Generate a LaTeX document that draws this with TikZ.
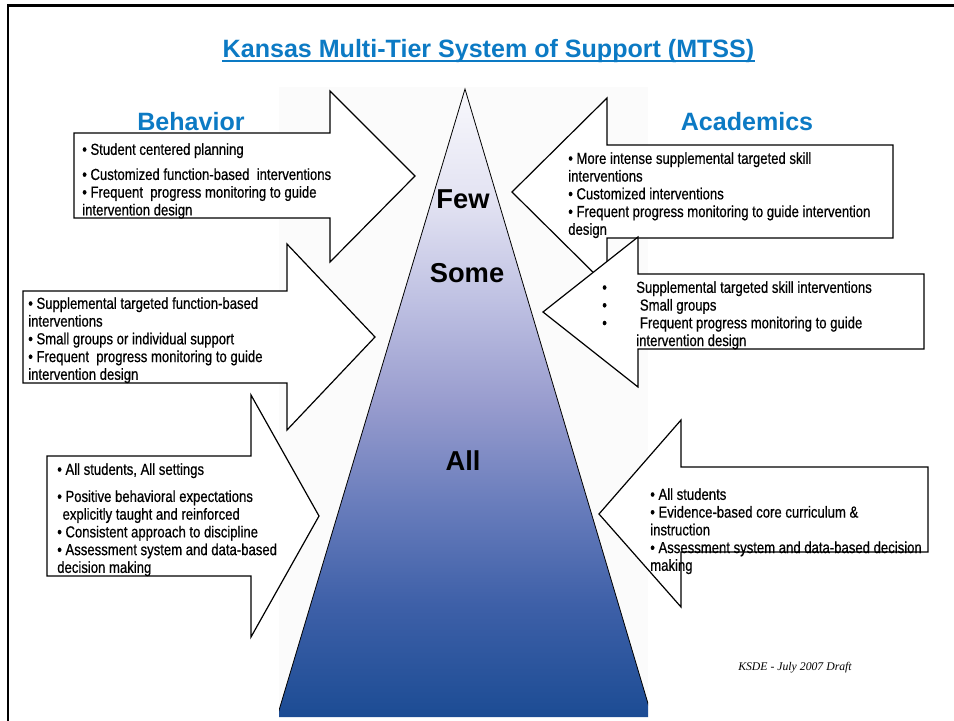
\documentclass[tikz,border=0pt]{standalone}
\usepackage{fontspec}
\setmainfont{Liberation Sans}
\newfontfamily\narrowfont[FakeStretch=0.82, FakeBold=0.6]{Liberation Sans}
\newfontfamily\footfont{Liberation Serif}

\definecolor{mtssblue}{RGB}{12,122,196}
\definecolor{pyrbot}{RGB}{28,76,148}
\definecolor{pyrlow}{RGB}{62,96,168}
\definecolor{pyrmidlow}{RGB}{105,125,188}
\definecolor{pyrmid}{RGB}{152,156,206}
\definecolor{pyrmidhigh}{RGB}{190,192,226}
\definecolor{pyrhigh}{RGB}{226,226,242}
\definecolor{pyrtop}{RGB}{248,248,252}

\pgfdeclareverticalshading{pyramidfade}{100bp}{color(0bp)=(pyrbot); color(25bp)=(pyrbot);
  color(34bp)=(pyrlow); color(42bp)=(pyrmidlow); color(50bp)=(pyrmid);
  color(58bp)=(pyrmidhigh); color(66bp)=(pyrhigh); color(75bp)=(pyrtop); color(100bp)=(pyrtop)}

\begin{document}
\begin{tikzpicture}[x=0.75pt, y=-0.75pt,
  bigarrow/.style={draw=black, fill=white, line width=0.9pt, line join=miter},
  bullets/.style={anchor=north west, inner sep=0pt, align=left, text=black,
    font=\narrowfont\fontsize{12}{13.3}\selectfont},
  heading/.style={anchor=base, inner sep=0pt, text=mtssblue,
    font=\bfseries\fontsize{18.8}{22}\selectfont},
  tierlabel/.style={anchor=base, inner sep=0pt, font=\bfseries\fontsize{20.5}{24}\selectfont}]
\useasboundingbox (0,0) rectangle (954,721);

% Frame
\draw[line width=1.9pt] (8,721) -- (8,5.5) -- (954,5.5);

% Title
\node[heading] (title) at (488.5,57) {Kansas Multi-Tier System of Support (MTSS)};
\draw[mtssblue, line width=1.1pt] ([yshift=-3pt]title.base west) -- ([yshift=-3pt]title.base east);

% Pyramid
\fill[black!1.5] (279,87) rectangle (648,717);
\begin{scope}
  \clip (279,87) rectangle (648,717);
  \shade[shading=pyramidfade] (465,89) -- (652,717) -- (277,717) -- cycle;
  \draw[line width=0.6pt] (277,717) -- (465,89) -- (652,717);
\end{scope}
\node[tierlabel] (few) at (463,208) {Few};
\node[tierlabel] (some) at (467,282) {Some};
\node[tierlabel] (all) at (463,470) {All};

% Behavior side
\node[heading] (behavior) at (191,130) {Behavior};
\draw[bigarrow] (74,133) -- (330,133) -- (330,91) -- (415,176) -- (330,262) -- (330,218) -- (74,218) -- cycle;
\draw[bigarrow] (23,291) -- (287,291) -- (287,244) -- (375,337) -- (287,430) -- (287,383) -- (23,383) -- cycle;
\draw[bigarrow] (47,456) -- (251,456) -- (251,395) -- (319,516) -- (251,637) -- (251,576) -- (47,576) -- cycle;

\node[bullets] (beh3) at (82,143) {• Student centered planning\\[5.5pt]
  • Customized function-based\ \ interventions\\
  • Frequent\ \ progress monitoring to guide\\
  intervention design};
\node[bullets] (beh2) at (28,297) {• Supplemental targeted function-based\\
  interventions\\
  • Small groups or individual support\\
  • Frequent\ \ progress monitoring to guide\\
  intervention design};
\node[bullets] (beh1) at (57,463) {• All students, All settings\\[7pt]
  • Positive behavioral expectations\\
  \hspace*{4pt}explicitly taught and reinforced\\
  • Consistent approach to discipline\\
  • Assessment system and data-based\\
  decision making};

% Academics side
\node[heading] (academics) at (747,130) {Academics};
\draw[bigarrow] (893,145) -- (607,145) -- (607,98) -- (512,192) -- (607,286) -- (607,238) -- (893,238) -- cycle;
\draw[bigarrow] (924,274) -- (638,274) -- (638,237) -- (543,312) -- (638,387) -- (638,349) -- (924,349) -- cycle;
\draw[bigarrow] (928,467) -- (681,467) -- (681,420) -- (599,514) -- (681,607) -- (681,552) -- (928,552) -- cycle;

\node[bullets] (aca3) at (568,152) {• More intense supplemental targeted skill\\
  interventions\\
  • Customized interventions\\
  • Frequent progress monitoring to guide intervention\\
  design};
\node[bullets] (aca2) at (602,281) {\makebox[25.5pt][l]{•}Supplemental targeted skill interventions\\
  \makebox[25.5pt][l]{•}\ Small groups\\
  \makebox[25.5pt][l]{•}\ Frequent progress monitoring to guide\\
  \hspace*{25.5pt}intervention design};
\node[bullets] (aca1) at (650,488) {• All students\\
  • Evidence-based core curriculum \&\\
  instruction\\
  • Assessment system and data-based decision\\
  making};

% Footer
\node[anchor=base, inner sep=0pt, font=\footfont\itshape\fontsize{8.8}{10}\selectfont] (draft) at (795,670) {KSDE - July 2007 Draft};
\end{tikzpicture}
\end{document}
